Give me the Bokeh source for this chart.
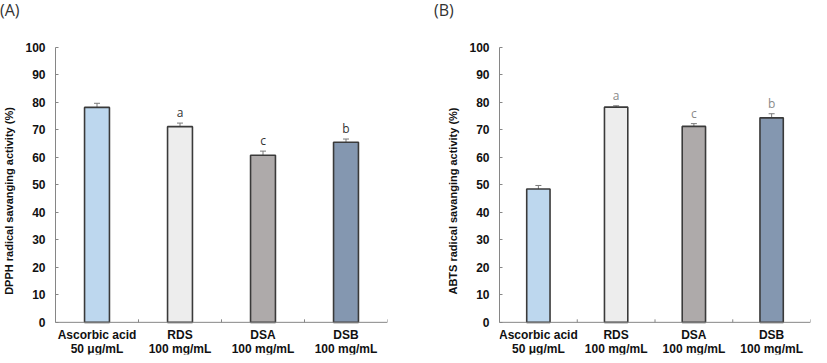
import numpy as np
from bokeh.plotting import figure
from bokeh.models import (ColumnDataSource, Range1d, FixedTicker, Whisker, TeeHead, Span, Div)
from bokeh.layouts import row, column
from bokeh.core.properties import value
from bokeh.embed import file_html
from bokeh.resources import INLINE

# ---- data ----
categories = ["Ascorbic acid\n50 \u03bcg/mL", "RDS\n100 mg/mL", "DSA\n100 mg/mL", "DSB\n100 mg/mL"]
colors = ["#BDD7EE", "#EDEDED", "#AEAAAA", "#8497B0"]

dpph_values = [78.2, 71.2, 60.8, 65.5]
dpph_errors = [1.5, 1.3, 1.5, 1.2]
dpph_letters = ["", "a", "c", "b"]

abts_values = [48.5, 78.3, 71.3, 74.4]
abts_errors = [1.3, 0.5, 1.0, 1.5]
abts_letters = ["", "a", "c", "b"]

y_ticks = list(range(0, 101, 10))
panel_labels = ["(A)", "(B)"]

AXIS_COL = "#868686"
FONT = "Liberation Sans"
FIG_H = 333


def make_panel(ytitle, vals, errs, letters, letter_color, width, border_left, border_right):
    n = len(categories)
    centers = list(np.arange(n) + 0.5)
    bounds = list(np.arange(n + 1).astype(float))
    src = ColumnDataSource(dict(
        x=centers, top=vals, color=colors,
        upper=[v + e for v, e in zip(vals, errs)],
        lower=[v - e for v, e in zip(vals, errs)],
        letter=letters, cat=categories, zero=[0] * n,
    ))
    # frame extends below 0 to hold the category labels
    p = figure(width=width, height=FIG_H, output_backend="svg", toolbar_location=None,
               x_range=Range1d(0, n), y_range=Range1d(-11.7, 100),
               x_axis_location=None,
               min_border_left=border_left, min_border_right=border_right,
               min_border_top=25, min_border_bottom=1)
    p.outline_line_color = None
    p.xgrid.grid_line_color = None
    p.ygrid.grid_line_color = None
    p.background_fill_color = "white"
    p.border_fill_color = "white"

    p.vbar(x="x", top="top", bottom=0, width=0.3, source=src, fill_color="color",
           line_color="#3a3a3a", line_width=1.6)
    w = Whisker(base="x", upper="upper", lower="lower", source=src,
                line_color="#7a7a7a", line_width=1,
                upper_head=TeeHead(size=6, line_color="#7a7a7a", line_width=1),
                lower_head=TeeHead(size=6, line_color="#7a7a7a", line_width=1))
    p.add_layout(w)
    p.text(x="x", y="upper", text="letter", source=src, text_align="center",
           text_baseline="bottom", y_offset=-2, text_font=value("Open Sans"),
           text_font_size="12px", text_color=letter_color)

    # x axis line at 0 with inward boundary ticks
    p.add_layout(Span(location=0, dimension="width", line_color=AXIS_COL, line_width=1))
    p.ray(x=bounds, y=[0] * (n + 1), length=3, length_units="screen", angle=90,
          angle_units="deg", line_color=AXIS_COL, line_width=1)
    # category labels
    p.text(x="x", y="zero", text="cat", source=src, y_offset=6,
           text_align="center", text_baseline="top",
           text_font=value(FONT), text_font_style="bold",
           text_font_size="12px", text_color="#111111", text_line_height=1.0)

    # y axis
    ya = p.yaxis[0]
    ya.ticker = FixedTicker(ticks=y_ticks)
    ya.bounds = (0, 100)
    ya.axis_line_color = AXIS_COL
    ya.major_tick_line_color = AXIS_COL
    ya.major_tick_in = 3
    ya.major_tick_out = 0
    ya.minor_tick_line_color = None
    ya.major_label_standoff = 10
    ya.major_label_text_font = FONT
    ya.major_label_text_font_style = "bold"
    ya.major_label_text_font_size = "12px"
    ya.major_label_text_color = "#111111"
    ya.axis_label = ytitle
    ya.axis_label_text_font = FONT
    ya.axis_label_text_font_style = "bold"
    ya.axis_label_text_font_size = "11px"
    ya.axis_label_text_color = "#111111"
    ya.axis_label_standoff = 7
    return p


p1 = make_panel("DPPH radical savanging activity (%)", dpph_values, dpph_errors,
                dpph_letters, "#333333", 407, 53, 20)
p2 = make_panel("ABTS radical savanging activity (%)", abts_values, abts_errors,
                abts_letters, "#8a8a8a", 404, 92, 1)

div_style = {"font-family": "Open Sans", "font-size": "16px", "color": "#333333",
             "line-height": "20px", "margin": "0", "padding": "0"}
d1 = Div(text=panel_labels[0], width=407, height=22, styles=dict(div_style))
d2 = Div(text=panel_labels[1], width=404, height=22,
         styles=dict(div_style, **{"padding-left": "27px"}))

layout = column(row(d1, d2), row(p1, p2))
open("out.html", "w").write(file_html(layout, INLINE))
